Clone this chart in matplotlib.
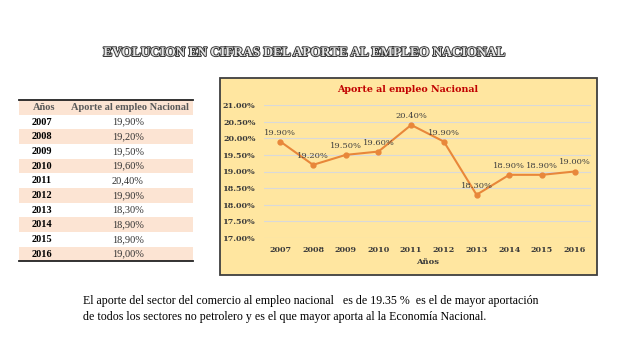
import matplotlib.pyplot as plt
import matplotlib.patheffects as pe
from matplotlib.patches import Rectangle

anios = ['2007', '2008', '2009', '2010', '2011', '2012', '2013', '2014', '2015', '2016']
aporte = [19.90, 19.20, 19.50, 19.60, 20.40, 19.90, 18.30, 18.90, 18.90, 19.00]
yticks = [17.0, 17.5, 18.0, 18.5, 19.0, 19.5, 20.0, 20.5, 21.0]

titulo = 'EVOLUCION EN CIFRAS DEL APORTE AL EMPLEO NACIONAL'
titulo_graf = 'Aporte al empleo Nacional'
nota = ('El aporte del sector del comercio al empleo nacional   es de 19.35 %  es el de mayor aportación\n'
        'de todos los sectores no petrolero y es el que mayor aporta al la Economía Nacional.')

W, H = 638, 359
fig = plt.figure(figsize=(W / 100, H / 100), dpi=100)
fig.patch.set_facecolor('white')

# fondo en pixeles para tabla, titulo y texto
bg = fig.add_axes([0, 0, 1, 1])
bg.set_xlim(0, W)
bg.set_ylim(H, 0)
bg.axis('off')

bg.text(305, 53, titulo, ha='center', va='center', fontsize=9.6, fontweight='bold',
        family='Liberation Serif', color='#e6e6e6',
        path_effects=[pe.withStroke(linewidth=1.4, foreground='#3a3a3a')])

# tabla
peach = '#fce4d3'
x0, x1 = 19, 193
row_h = 14.67
top = 100
bg.add_patch(Rectangle((x0, top), x1 - x0, row_h, color=peach, lw=0))
bg.text(33, top + row_h / 2, 'Años', ha='left', va='center', fontsize=7.5,
        family='Liberation Serif', fontweight='bold', color='#595959')
bg.text(130, top + row_h / 2, 'Aporte al empleo Nacional', ha='center', va='center', fontsize=7.5,
        family='Liberation Serif', fontweight='bold', color='#595959')
for i, (a, v) in enumerate(zip(anios, aporte)):
    yc = top + row_h * (i + 1.5)
    if i % 2 == 1:
        bg.add_patch(Rectangle((x0, yc - row_h / 2), x1 - x0, row_h, color=peach, lw=0))
    bg.text(32, yc, a, ha='left', va='center', fontsize=7.5, family='Liberation Serif',
            fontweight='bold', color='black')
    bg.text(128, yc, f'{v:.2f}%'.replace('.', ','), ha='center', va='center', fontsize=7.5,
            family='Liberation Serif', color='#333333')
bg.plot([x0, x1], [top - 0.5, top - 0.5], color='#222222', lw=1.3)
ybot = top + row_h * (len(anios) + 1)
bg.plot([x0, x1], [ybot, ybot], color='#222222', lw=1.3)

# caja del grafico
bg.add_patch(Rectangle((220, 78), 377, 197, facecolor='#ffe6a0', edgecolor='#3f3f3f', lw=1.3))
bg.text(408, 89, titulo_graf, ha='center', va='center', fontsize=6.8, fontweight='bold',
        family='DejaVu Serif', color='#c00000')

bg.text(83, 309, nota, ha='left', va='center', fontsize=8.6, family='Liberation Serif',
        color='black', linespacing=1.5)

# grafico de linea
ax = fig.add_axes([264 / W, 1 - 238 / H, (591 - 264) / W, (238 - 105) / H])
ax.patch.set_alpha(0)
x = range(len(anios))
ax.plot(x, aporte, color='#e8873a', lw=1.5, marker='o', ms=3.5, zorder=3)
for xi, v in zip(x, aporte):
    ax.annotate(f'{v:.2f}%', (xi, v), xytext=(0, 6.5), textcoords='offset points',
                ha='center', va='center', fontsize=6, family='DejaVu Serif', color='#404040')
ax.set_xlim(-0.5, len(anios) - 0.5)
ax.set_ylim(17, 21)
ax.set_yticks(yticks)
ax.set_yticklabels([f'{t:.2f}%' for t in yticks])
ax.set_xticks(list(x))
ax.set_xticklabels(anios)
for lab in ax.get_xticklabels() + ax.get_yticklabels():
    lab.set_family('DejaVu Serif')
    lab.set_fontweight('bold')
    lab.set_fontsize(5.8)
    lab.set_color('#3a3a3a')
ax.tick_params(length=0, pad=6)
ax.grid(axis='y', color='#d9d9d9', lw=0.8)
ax.set_axisbelow(True)
for s in ax.spines.values():
    s.set_visible(False)
ax.set_xlabel('Años', fontsize=6, fontweight='bold', family='DejaVu Serif', color='#3a3a3a', labelpad=3)

fig.savefig('out.png', dpi=100)
